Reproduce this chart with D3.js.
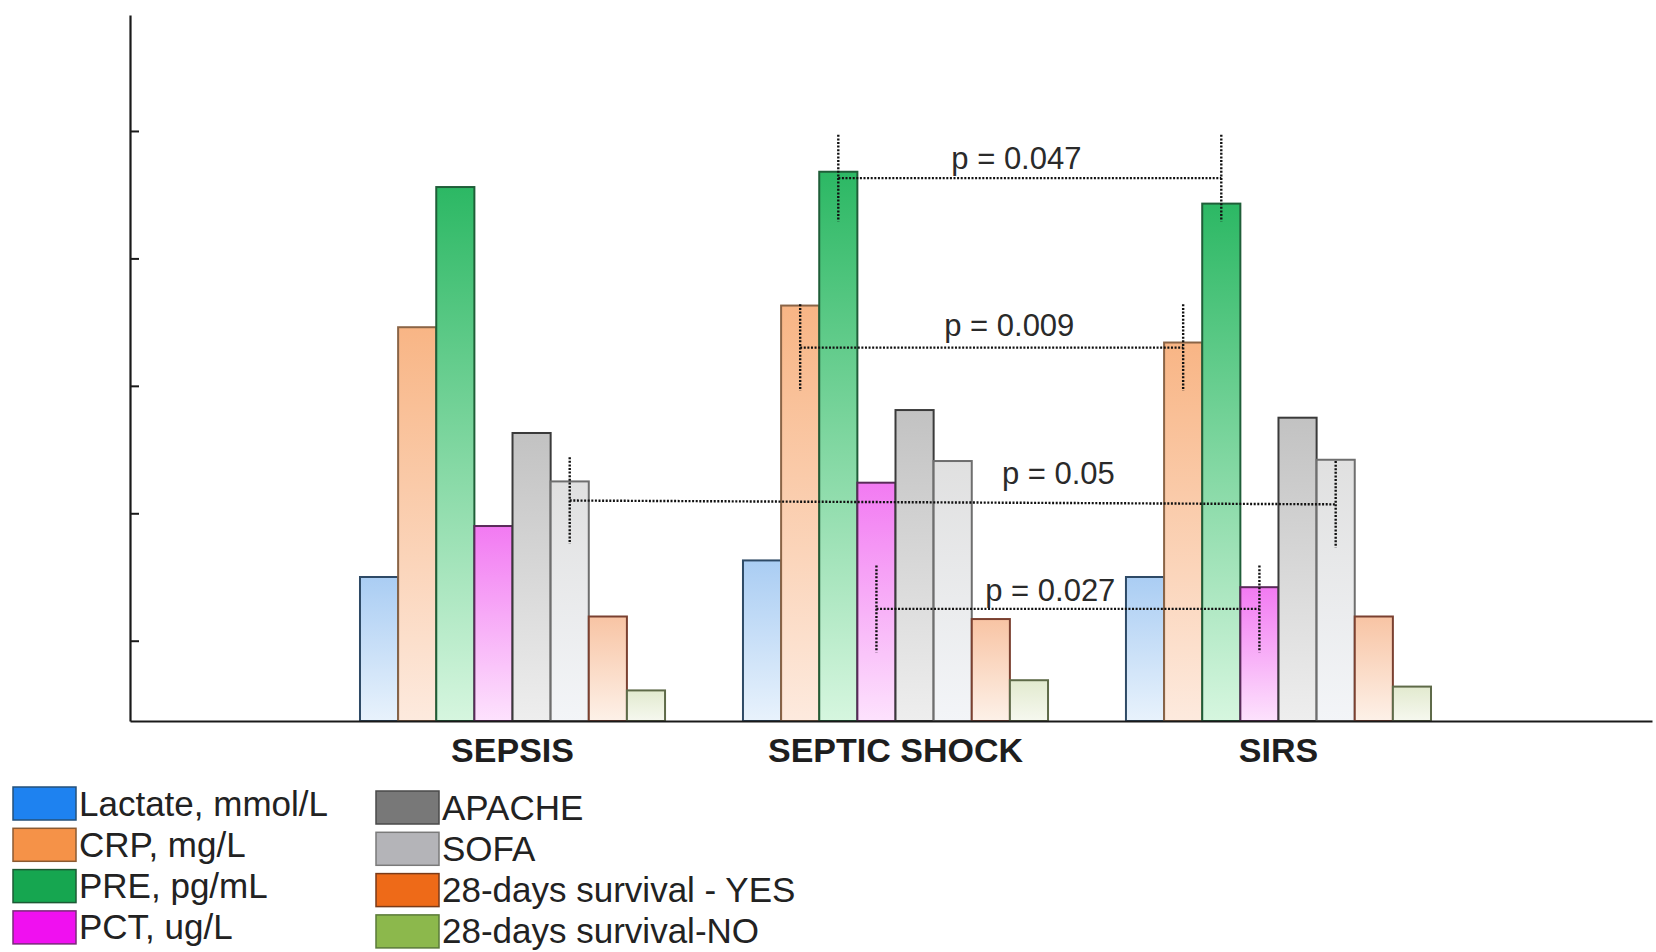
<!DOCTYPE html>
<html>
<head>
<meta charset="utf-8">
<script src="https://cdn.jsdelivr.net/npm/d3@7"></script>
<style>
  html, body { margin: 0; padding: 0; background: #ffffff; }
  svg { display: block; }
  text { font-family: "Liberation Sans", Arial, sans-serif; }
</style>
</head>
<body>
<svg id="chart" width="1656" height="952"></svg>
<script>
// ---------- data ----------
const categories = ["SEPSIS", "SEPTIC SHOCK", "SIRS"];
const seriesNames = ["Lactate, mmol/L", "CRP, mg/L", "PRE, pg/mL", "PCT, ug/L",
                     "APACHE", "SOFA", "28-days survival - YES", "28-days survival-NO"];
const lactate   = [113, 126, 113];
const crp       = [309, 326, 297];
const pre       = [419, 431, 406];
const pct       = [153, 187, 105];
const apache    = [226, 244, 238];
const sofa      = [188, 204, 205];
const survYes   = [82, 80, 82];
const survNo    = [24, 32, 27];
const seriesValues = [lactate, crp, pre, pct, apache, sofa, survYes, survNo];
const yTicks = [63, 163, 263, 363, 463];
const yMax = 554;

// significance annotations: series index, categories compared, bracket level, half-length of whiskers
const comparisons = [
  { p: "p = 0.047", series: 2, from: 1, to: 2, level: [426, 426], err: 34, labelT: 0.465, labelLevel: 433 },
  { p: "p = 0.009", series: 1, from: 1, to: 2, level: [293, 293], err: 34, labelT: 0.546, labelLevel: 302 },
  { p: "p = 0.05",  series: 5, from: 0, to: 2, level: [173, 170], err: 34, labelT: 0.638, labelLevel: 186 },
  { p: "p = 0.027", series: 3, from: 1, to: 2, level: [88, 88],   err: 34, labelT: 0.454, labelLevel: 94 }
];

// ---------- styles ----------
const gradTop    = ["#aacdf3", "#f8b585", "#2cb864", "#f27af2", "#c2c2c2", "#e0e0e0", "#f8c4a4", "#e2eacf"];
const gradBottom = ["#e8f2fc", "#fdeade", "#d6f6df", "#fde2fd", "#eeeeee", "#f3f5f8", "#fdf1e8", "#f6f8ef"];
const strokeCols = ["#2e4a66", "#8a6446", "#1f5e38", "#5a2a5a", "#3a3a3a", "#6e6e6e", "#7a4030", "#5e6a48"];
const legendCols = ["#1e82f0", "#f59248", "#16a650", "#f010f0", "#787878", "#b4b4b8", "#ee6a18", "#8cb84c"];
const legendStroke = ["#24507a", "#8a5a32", "#1c5a34", "#7a2a7a", "#4a4a4a", "#7a7a7a", "#7a3a18", "#5a7a38"];

const svg = d3.select("#chart");

const y = d3.scaleLinear().domain([0, yMax]).range([721, 15]);
const x0 = d3.scaleBand().domain(categories).range([168.5, 1622.5]).paddingInner(0.2035).paddingOuter(0.5);
const x1 = d3.scaleBand().domain(d3.range(seriesNames.length)).range([0, x0.bandwidth()]).padding(0);

// gradients
const defs = svg.append("defs");
seriesNames.forEach((s, i) => {
  const g = defs.append("linearGradient").attr("id", "g" + i)
    .attr("x1", 0).attr("y1", 0).attr("x2", 0).attr("y2", 1);
  g.append("stop").attr("offset", "0%").attr("stop-color", gradTop[i]);
  g.append("stop").attr("offset", "100%").attr("stop-color", gradBottom[i]);
});

// bars
const groups = svg.append("g").selectAll("g")
  .data(categories).join("g")
  .attr("transform", d => `translate(${x0(d)},0)`);

groups.selectAll("rect")
  .data((c, ci) => seriesValues.map((vals, si) => ({ si, v: vals[ci] })))
  .join("rect")
  .attr("x", d => x1(d.si))
  .attr("y", d => y(d.v))
  .attr("width", x1.bandwidth())
  .attr("height", d => y(0) - y(d.v))
  .attr("fill", d => `url(#g${d.si})`)
  .attr("stroke", d => strokeCols[d.si])
  .attr("stroke-width", 2);

// axes
const yAxis = d3.axisLeft(y).tickValues(yTicks).tickSizeInner(-9).tickSizeOuter(0).tickFormat("");
const ya = svg.append("g").attr("transform", "translate(130,0)").call(yAxis);
ya.select(".domain").attr("stroke", "#1a1a1a").attr("stroke-width", 2.2);
ya.selectAll(".tick line").attr("stroke", "#1a1a1a").attr("stroke-width", 2);

const xAxisScale = d3.scaleLinear().domain([0, 1]).range([130, 1652]);
const xa = svg.append("g").attr("transform", `translate(0,${y(0)})`)
  .call(d3.axisBottom(xAxisScale).tickValues([]).tickSizeOuter(0));
xa.select(".domain").attr("stroke", "#1a1a1a").attr("stroke-width", 2.2);

// category labels
svg.append("g").selectAll("text")
  .data(categories).join("text")
  .attr("x", d => x0(d) + x0.bandwidth() / 2)
  .attr("y", 762)
  .attr("text-anchor", "middle")
  .attr("font-size", 34)
  .attr("font-weight", "bold")
  .attr("fill", "#1e1e1e")
  .text(d => d);

// significance brackets
const cx = (ci, si) => x0(categories[ci]) + x1(si) + x1.bandwidth() / 2;
const ann = svg.append("g");
comparisons.forEach(c => {
  const xa1 = cx(c.from, c.series), xa2 = cx(c.to, c.series);
  const ya1 = y(c.level[0]), ya2 = y(c.level[1]);
  const dash = { stroke: "#111", "stroke-width": 2.4, "stroke-dasharray": "2,1.6" };
  const line = (xA, yA, xB, yB) => {
    const l = ann.append("line").attr("x1", xA).attr("y1", yA).attr("x2", xB).attr("y2", yB);
    Object.entries(dash).forEach(([k, v]) => l.attr(k, v));
  };
  line(xa1, ya1, xa2, ya2);
  line(xa1, y(c.level[0] + c.err), xa1, y(c.level[0] - c.err));
  line(xa2, y(c.level[1] + c.err), xa2, y(c.level[1] - c.err));
  ann.append("text")
    .attr("x", xa1 + c.labelT * (xa2 - xa1))
    .attr("y", y(c.labelLevel))
    .attr("text-anchor", "middle")
    .attr("font-size", 31)
    .attr("fill", "#2a2a2a")
    .text(c.p);
});

// legend
const legend = svg.append("g");
const legendCols2 = [{ x: 13, y: 787 }, { x: 376, y: 791 }];
seriesNames.forEach((name, i) => {
  const col = legendCols2[Math.floor(i / 4)];
  const row = i % 4;
  const gy = col.y + row * 41.3;
  legend.append("rect")
    .attr("x", col.x).attr("y", gy)
    .attr("width", 63).attr("height", 33)
    .attr("fill", legendCols[i])
    .attr("stroke", legendStroke[i]).attr("stroke-width", 1.5);
  legend.append("text")
    .attr("x", col.x + 66).attr("y", gy + 28.5)
    .attr("font-size", 35)
    .attr("fill", "#222")
    .text(name);
});
</script>
</body>
</html>
